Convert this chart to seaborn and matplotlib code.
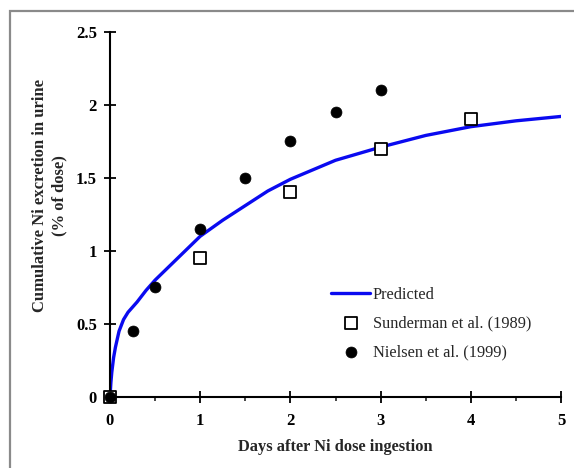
import matplotlib
matplotlib.use("Agg")
import matplotlib.pyplot as plt
import seaborn as sns
import pandas as pd
from matplotlib.patches import Rectangle
from matplotlib.ticker import MultipleLocator

# Data
pred_days = [0, 0.01, 0.02, 0.04, 0.06, 0.1, 0.15, 0.2, 0.3, 0.4, 0.5, 0.75, 1,
             1.25, 1.5, 1.75, 2, 2.5, 3, 3.5, 4, 4.5, 5]
pred_vals = [0, 0.10, 0.17, 0.27, 0.34, 0.45, 0.53, 0.58, 0.65, 0.73, 0.80, 0.95, 1.10,
             1.21, 1.31, 1.41, 1.49, 1.62, 1.71, 1.79, 1.85, 1.89, 1.92]
sund_days = [0, 1, 2, 3, 4]
sund_vals = [0, 0.95, 1.40, 1.70, 1.90]
niel_days = [0, 0.25, 0.5, 1, 1.5, 2, 2.5, 3]
niel_vals = [0, 0.45, 0.75, 1.15, 1.50, 1.75, 1.95, 2.10]
x_ticks = [0, 1, 2, 3, 4, 5]
y_ticks = [0, 0.5, 1, 1.5, 2, 2.5]
y_tick_labels = ["0", "0.5", "1", "1.5", "2", "2.5"]

sns.set_style("ticks")
plt.rcParams["font.family"] = ["Liberation Serif", "DejaVu Serif"]

fig = plt.figure(figsize=(5.74, 4.68), dpi=100)
AX_W = 561 - 110
AX_H = 397 - 31.7
ax = fig.add_axes([110 / 574, 1 - 397 / 468, AX_W / 574, AX_H / 468])

pred_df = pd.DataFrame({"d": pred_days, "v": pred_vals})
sund_df = pd.DataFrame({"d": sund_days, "v": sund_vals})
niel_df = pd.DataFrame({"d": niel_days, "v": niel_vals})

sns.lineplot(data=pred_df, x="d", y="v", ax=ax, color="#0a0af0", lw=2.4,
             sort=False, estimator=None, label="Predicted", zorder=2)
sns.scatterplot(data=sund_df, x="d", y="v", ax=ax, marker="s", s=80,
                facecolor="white", edgecolor="black", linewidth=1.3,
                label="Sunderman et al. (1989)", zorder=3, clip_on=False)
sns.scatterplot(data=niel_df, x="d", y="v", ax=ax, marker="o", s=62,
                color="black", edgecolor="black", linewidth=0.5,
                label="Nielsen et al. (1999)", zorder=4, clip_on=False)

ax.set_xlim(0, 5)
ax.set_ylim(0, 2.5)
ax.set_xticks(x_ticks)
ax.set_xticklabels([str(t) for t in x_ticks])
ax.set_yticks(y_ticks)
ax.set_yticklabels(y_tick_labels)
ax.xaxis.set_minor_locator(MultipleLocator(0.5))
for s in ["top", "right"]:
    ax.spines[s].set_visible(False)
for s in ["left", "bottom"]:
    ax.spines[s].set_linewidth(1.5)
    ax.spines[s].set_color("black")
ax.tick_params(axis="both", which="major", direction="inout", length=9, width=1.3,
               labelsize=12, pad=5, colors="black")
ax.tick_params(axis="x", which="minor", direction="out", length=3, width=1.2)
ax.tick_params(axis="x", which="major", pad=7)
for lab in ax.get_xticklabels() + ax.get_yticklabels():
    lab.set_fontweight("bold")

ax.set_xlabel("Days after Ni dose ingestion", fontsize=11.8, fontweight="bold", labelpad=7)
ax.set_ylabel("")
ax.text(-(110 - 50) / AX_W, (397 - 196) / AX_H,
        "Cumulative Ni excretion in urine\n(% of dose)",
        transform=ax.transAxes, rotation=90, ha="center", va="center",
        fontsize=12, fontweight="bold", linespacing=1.3)

leg = ax.legend(loc="upper left", bbox_to_anchor=((331 - 110) / AX_W, (397 - 287) / AX_H),
                frameon=False, fontsize=11.8, handlelength=2.4, handletextpad=0.15,
                labelspacing=0.78, borderaxespad=0, borderpad=0)

fig.patches.append(Rectangle((9.5 / 574, -0.5), 2, 0.5 + 1 - 10.5 / 468, fill=False,
                             edgecolor="#8a8a8a", lw=1.6, transform=fig.transFigure,
                             figure=fig))

fig.savefig("out.png", dpi=100)
